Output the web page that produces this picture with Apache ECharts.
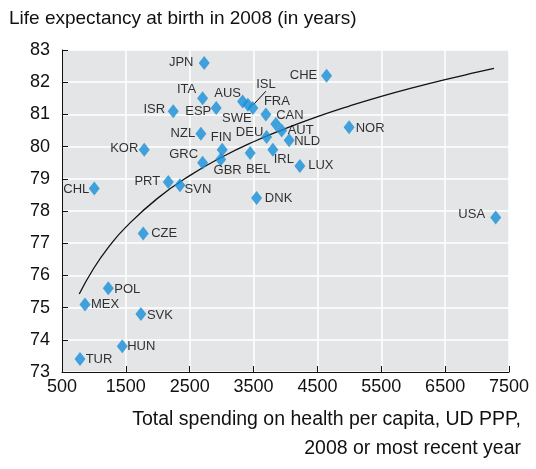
<!DOCTYPE html>
<html><head><meta charset="utf-8">
<script src="https://cdn.jsdelivr.net/npm/echarts@6/dist/echarts.min.js"></script>
<style>html,body{margin:0;padding:0;background:#fff}#c{width:536px;height:469px}</style>
</head><body><div id="c"></div>
<script>
// ---- data ----
const countries = ['JPN','ITA','ISR','ESP','AUS','ISL','SWE','FRA','CAN','AUT','NLD','DEU','IRL','BEL','LUX','NOR','CHE','USA','DNK','NZL','FIN','GBR','GRC','KOR','PRT','SVN','CHL','CZE','POL','MEX','SVK','HUN','TUR'];
const spending   = [2727,2702,2242,2915,3328,3411,3489,3693,3849,3940,4057,3704,3802,3447,4225,4996,4643,7292,3547,2675,3009,2984,2702,1788,2164,2347,1005,1772,1225,860,1736,1444,782];
const lifeExp    = [82.6,81.5,81.1,81.2,81.4,81.3,81.2,81.0,80.7,80.5,80.2,80.3,79.9,79.8,79.4,80.6,82.2,77.8,78.4,80.4,79.9,79.6,79.5,79.9,78.9,78.8,78.7,77.3,75.6,75.1,74.8,73.8,73.4];
const trendSpending = [770,1000,1250,1500,2000,2500,3000,3500,4000,4500,5000,5500,6000,6500,7000,7265];
const trendLifeExp  = [75.42,76.23,76.93,77.50,78.40,79.10,79.67,80.15,80.56,80.93,81.26,81.56,81.83,82.08,82.31,82.43];
const xTickLabels = [500,1500,2500,3500,4500,5500,6500,7500];
const yTickLabels = [73,74,75,76,77,78,79,80,81,82,83];
const titleText = 'Life expectancy at birth in 2008 (in years)';
const xTitleLines = ['Total spending on health per capita, UD PPP,', '2008 or most recent year'];

// ---- label placement (layout only) ----
const labelOffsets = {
  JPN:[-23,0], ITA:[-16,-9], ISR:[-19,-2], ESP:[-18,3], AUS:[-15,-8], ISL:[18,-20],
  SWE:[-16,10], FRA:[11,-13], CAN:[14,-9], AUT:[19,0], NLD:[18,1], DEU:[-17,-5],
  IRL:[11,10], BEL:[8,16], LUX:[21,0], NOR:[21,1], CHE:[-23,0], USA:[-24,-3],
  DNK:[22,0], NZL:[-18,0], FIN:[-1,-12], GBR:[7,11], GRC:[-19,-8], KOR:[-20,-1],
  PRT:[-21,-1], SVN:[18,4], CHL:[-18,1], CZE:[21,0], POL:[19,1], MEX:[20,0],
  SVK:[19,1], HUN:[19,0], TUR:[19,0]
};

const FONT = '"Liberation Sans", Arial, sans-serif';
const chart = echarts.init(document.getElementById('c'), null, {renderer:'canvas'});

const scatterData = countries.map((c, i) => {
  const item = { name: c, value: [spending[i], lifeExp[i]], label: { offset: labelOffsets[c] } };
  if (c === 'ISL') item.labelLine = { show: true, lineStyle: { color: '#000', width: 1 } };
  return item;
});

chart.setOption({
  animation: false,
  backgroundColor: '#ffffff',
  grid: { left: 62, right: 27, top: 50, bottom: 97, show: true, backgroundColor: '#e4e5e7', borderWidth: 0 },
  xAxis: {
    type: 'value', min: xTickLabels[0], max: xTickLabels[xTickLabels.length-1], interval: 1000,
    axisLine: { show: true, lineStyle: { color: '#111', width: 1 } },
    axisTick: { show: true, inside: true, length: 6, lineStyle: { color: '#111' } },
    axisLabel: { color: '#111', fontSize: 18, fontFamily: FONT, margin: 6, formatter: v => String(v) },
    splitLine: { show: true, lineStyle: { color: '#ffffff', width: 1.5 } }
  },
  yAxis: {
    type: 'value', min: yTickLabels[0], max: yTickLabels[yTickLabels.length-1], interval: 1,
    axisLine: { show: true, lineStyle: { color: '#111', width: 1 } },
    axisTick: { show: true, inside: true, length: 6, lineStyle: { color: '#111' } },
    axisLabel: { color: '#111', fontSize: 18, fontFamily: FONT, margin: 12, formatter: v => String(v) },
    splitLine: { show: true, lineStyle: { color: '#ffffff', width: 1.5 } }
  },
  graphic: [
    { type: 'text', left: 9, top: 9, style: { text: titleText, font: '19px ' + FONT, fill: '#111' } },
    { type: 'text', right: 15, top: 405, style: { text: xTitleLines.join('\n'), font: '19.5px ' + FONT, fill: '#111', textAlign: 'right', lineHeight: 29 } }
  ],
  series: [
    {
      type: 'line', data: trendSpending.map((x, i) => [x, trendLifeExp[i]]),
      showSymbol: false, smooth: true, lineStyle: { color: '#111', width: 1.3 }, z: 2, silent: true
    },
    {
      type: 'scatter', data: scatterData, symbol: 'diamond', symbolSize: [11, 14],
      itemStyle: { color: '#168fd8' }, z: 3,
      label: { show: true, position: 'inside', formatter: '{b}', color: '#000', fontSize: 13, fontFamily: FONT, textBorderWidth: 0, textShadowBlur: 0 }
    }
  ]
});
</script></body></html>
